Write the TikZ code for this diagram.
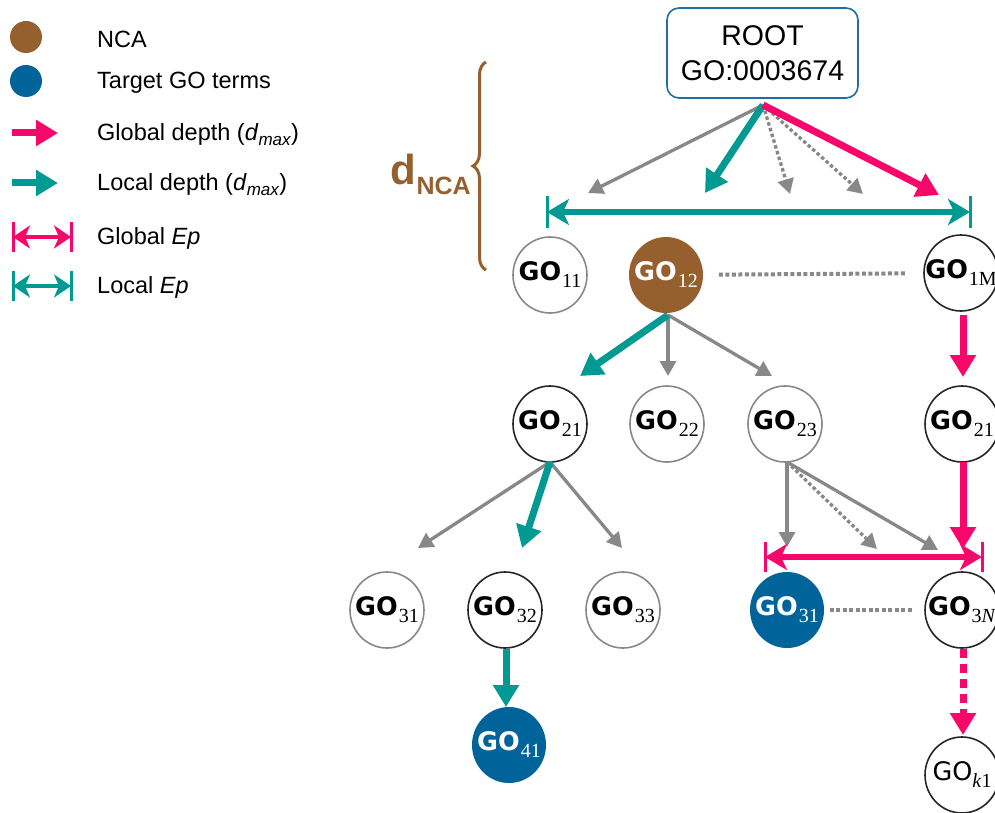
\documentclass[tikz,border=0pt]{standalone}
\usepackage{fontspec}
\setmainfont{Liberation Sans}
\newfontfamily\gofont{DejaVu Sans}
\newfontfamily\subfont{Liberation Serif}
\usetikzlibrary{arrows.meta,shapes.geometric,decorations.pathreplacing}
\definecolor{cteal}{HTML}{009A93}
\definecolor{cpink}{HTML}{F7076A}
\definecolor{cbrown}{HTML}{955F2E}
\definecolor{cblue}{HTML}{00639A}
\definecolor{cgray}{HTML}{888888}
\definecolor{cbox}{HTML}{1E6EA8}
\newcommand\gon[1]{\makebox[0pt]{{\gofont\bfseries\fontsize{25.5}{25.5}\selectfont GO}\kern1pt\raisebox{-7pt}{\subfont\fontsize{20}{20}\selectfont #1}}}
\newcommand\gonreg[1]{\makebox[0pt]{{\gofont\fontsize{25.5}{25.5}\selectfont GO}\raisebox{-7pt}{\subfont\fontsize{20}{20}\selectfont #1}}}
\tikzset{
  gonode/.style={ellipse, draw=cgray, line width=1.6pt, minimum width=74pt, minimum height=76pt, inner sep=0pt, fill=white},
  darknode/.style={gonode, draw=black!85},
  ncanode/.style={gonode, draw=none, fill=cbrown, text=white},
  tgtnode/.style={gonode, draw=none, fill=cblue, text=white},
  garr/.style={draw=cgray, line width=3.3pt, -{Triangle[length=15pt,width=16pt]}},
  gdotarr/.style={garr, dash pattern=on 3.5pt off 2.5pt},
  tarr/.style={draw=cteal, line width=7pt, -{Triangle[length=22pt,width=25pt]}},
  parr/.style={draw=cpink, line width=7pt, -{Triangle[length=22pt,width=25pt]}},
  eparr/.style={line width=5.5pt, {Stealth[length=22pt,width=26pt,inset=6pt]}-{Stealth[length=22pt,width=26pt,inset=6pt]}},
  epbar/.style={line width=3pt},
  dotline/.style={draw=cgray, line width=4pt, dash pattern=on 4pt off 2.5pt},
  legtext/.style={anchor=west, font=\fontsize{23.5}{23.5}\selectfont, inner sep=0pt},
}
\begin{document}
\begin{tikzpicture}[x=1pt,y=-1pt]
\useasboundingbox (0,0) rectangle (995,813);

% legend
\node[circle, fill=cbrown, minimum size=32pt, inner sep=0pt] (lnca) at (26,37) {};
\node[circle, fill=cblue, minimum size=32pt, inner sep=0pt] (ltgt) at (26,81) {};
\node[legtext] (tnca) at (97,39) {NCA};
\node[legtext] (ttgt) at (97,83) {Target GO terms};
\coordinate (lp1) at (12,133); \coordinate (lp2) at (58,133);
\draw[parr] (lp1) -- (lp2);
\coordinate (lt1) at (12,183); \coordinate (lt2) at (58,183);
\draw[tarr] (lt1) -- (lt2);
\node[legtext] (tgd) at (97,135) {Global depth (\textit{d}\raisebox{-5pt}{\fontsize{17}{17}\selectfont\textit{max}})};
\node[legtext] (tld) at (97,185) {Local depth (\textit{d}\raisebox{-5pt}{\fontsize{17}{17}\selectfont\textit{max}})};
\coordinate (lg1) at (13,237); \coordinate (lg2) at (71,237);
\draw[eparr, draw=cpink, fill=cpink, line width=4.5pt, {Stealth[length=17pt,width=23pt,inset=5pt]}-{Stealth[length=17pt,width=23pt,inset=5pt]}] (lg1) -- (lg2);
\draw[epbar, cpink] ([yshift=-15pt]lg1) -- ([yshift=15pt]lg1) ([yshift=-15pt]lg2) -- ([yshift=15pt]lg2);
\coordinate (ll1) at (13,286); \coordinate (ll2) at (71,286);
\draw[eparr, draw=cteal, fill=cteal, line width=4.5pt, {Stealth[length=17pt,width=23pt,inset=5pt]}-{Stealth[length=17pt,width=23pt,inset=5pt]}] (ll1) -- (ll2);
\draw[epbar, cteal] ([yshift=-15pt]ll1) -- ([yshift=15pt]ll1) ([yshift=-15pt]ll2) -- ([yshift=15pt]ll2);
\node[legtext] (tge) at (97,238) {Global \textit{Ep}};
\node[legtext] (tle) at (97,287) {Local \textit{Ep}};

% d_NCA brace
\draw[cbrown, line width=3pt, decorate, decoration={brace, amplitude=13pt, aspect=0.5}] (486,270) -- (486,62);
\node[anchor=east, text=cbrown, inner sep=0pt] (dnca) at (471,174) {\bfseries\fontsize{42}{42}\selectfont d\raisebox{-10pt}{\fontsize{25}{25}\selectfont NCA}};

% root
\node[draw=cbox, line width=1.6pt, rounded corners=12pt, minimum width=191pt, minimum height=90pt, align=center, font=\fontsize{28.5}{35}\selectfont] (root) at (762.5,53) {ROOT\\GO:0003674};

% nodes
\node[gonode] (n11) at (550,275) {\gon{11}};
\node[ncanode] (n12) at (666,275) {\gon{12}};
\node[darknode] (n1M) at (961,273) {\gon{1M}};
\node[darknode] (n21) at (550,424) {\gon{21}};
\node[gonode] (n22) at (667,424) {\gon{22}};
\node[gonode] (n23) at (785,424) {\gon{23}};
\node[darknode] (n21r) at (962,424) {\gon{21}};
\node[gonode] (n31) at (387,610) {\gon{31}};
\node[darknode] (n32) at (505,610) {\gon{32}};
\node[gonode] (n33) at (623,610) {\gon{33}};
\node[tgtnode] (n31b) at (787,610) {\gon{31}};
\node[darknode] (n3N) at (962,610) {\gon{3\textit{N}}};
\node[tgtnode] (n41) at (509,745) {\gon{41}};
\node[darknode] (nk1) at (962,775) {\gonreg{\textit{k}1}};

% root arrows
\coordinate (rs) at (763,105);
\coordinate (ra1) at (588,193);
\coordinate (ra2) at (705,193);
\coordinate (ra3) at (790,194);
\coordinate (ra4) at (863,194);
\coordinate (ra5) at (939,195);
\draw[garr] (rs) -- (ra1);
\draw[gdotarr] (rs) -- (ra3);
\draw[gdotarr] (rs) -- (ra4);
\draw[tarr] (rs) -- (ra2);
\draw[parr] (rs) -- (ra5);

% local Ep (teal)
\coordinate (ep1) at (547,212);
\coordinate (ep2) at (970,212);
\draw[eparr, draw=cteal, fill=cteal] (ep1) -- (ep2);
\draw[epbar, cteal] ([yshift=-16pt]ep1) -- ([yshift=16pt]ep1) ([yshift=-16pt]ep2) -- ([yshift=16pt]ep2);

% dotted links
\draw[dotline, shorten <=15pt, shorten >=17pt] (n12) -- (n1M);
\draw[dotline, shorten <=5pt, shorten >=10pt] (n31b) -- (n3N);

% level 1 -> 2
\coordinate (s12) at (668,315);
\coordinate (c1) at (580,376);
\coordinate (c2) at (668,376);
\coordinate (c3) at (772,376);
\draw[garr] (s12) -- (c2);
\draw[garr] (s12) -- (c3);
\draw[tarr] (s12) -- (c1);
\coordinate (s1M) at (963,315);
\coordinate (c4) at (963,377);
\draw[parr] (s1M) -- (c4);

% level 2 -> 3
\coordinate (s21) at (550,462);
\coordinate (c5) at (418,548);
\coordinate (c6) at (522,548);
\coordinate (c7) at (622,548);
\draw[garr] (s21) -- (c5);
\draw[garr] (s21) -- (c7);
\draw[tarr] (s21) -- (c6);
\coordinate (s23) at (787,462);
\coordinate (c8) at (787,547);
\coordinate (c9) at (877,549);
\coordinate (c10) at (938,550);
\draw[garr] (s23) -- (c8);
\draw[gdotarr] (s23) -- (c9);
\draw[garr] (s23) -- (c10);
\coordinate (s21r) at (963,462);
\coordinate (c11) at (963,549);
\draw[parr] (s21r) -- (c11);

% global Ep (pink)
\coordinate (ep3) at (765,557);
\coordinate (ep4) at (982,557);
\draw[eparr, draw=cpink, fill=cpink] (ep3) -- (ep4);
\draw[epbar, cpink] ([yshift=-15pt]ep3) -- ([yshift=15pt]ep3) ([yshift=-15pt]ep4) -- ([yshift=15pt]ep4);

% level 3 -> 4
\coordinate (c12) at (506,707);
\draw[tarr] (n32.south -| c12) -- (c12);
\coordinate (c13) at (963,735);
\draw[parr, dash pattern=on 9pt off 6pt] (n3N.south -| c13) -- (c13);
\end{tikzpicture}
\end{document}
